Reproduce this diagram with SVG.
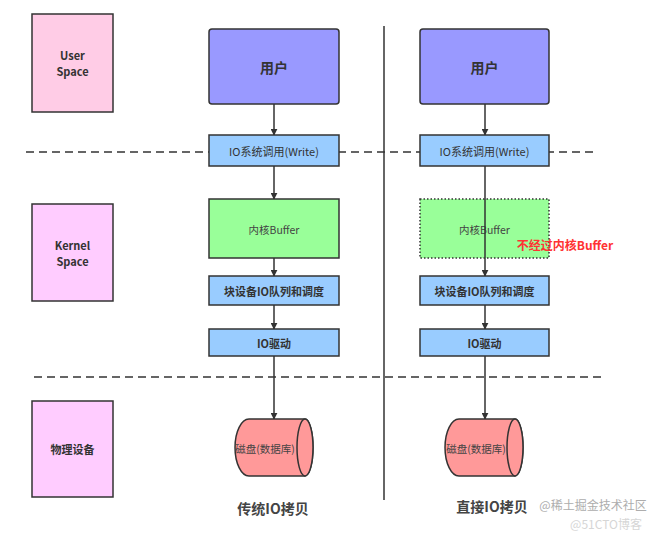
<svg xmlns="http://www.w3.org/2000/svg" width="669" height="533" viewBox="0 0 669 533">
<style>
text{font-family:"Noto Sans CJK SC","Noto Sans",sans-serif;text-anchor:middle;dominant-baseline:central}
.t{fill:#333}
.g{fill:#444}
.b{stroke:#333;stroke-width:1.5}
.lbl{font-size:11px;font-weight:bold;fill:#333}
.sm{font-size:11px;fill:#333}
.red{font-size:12px;font-weight:bold;fill:#ff3333}
.wm1{font-size:12px;fill:#999;opacity:0.8}
.wm2{font-size:12px;fill:#bbb;opacity:0.6}
.dash{stroke:#333;stroke-width:1.5;stroke-dasharray:8 5;fill:none}
.ar{stroke:#333;stroke-width:1.5;fill:none;marker-end:url(#ah)}
</style>
<defs>
<marker id="ah" viewBox="0 0 10 10" refX="9" refY="5" markerWidth="7" markerHeight="7" markerUnits="userSpaceOnUse" orient="auto"><path d="M0,0 L10,5 L0,10 z" fill="#333"/></marker>
</defs>
<rect width="669" height="533" fill="#fff"/>
<g id="dividers">
<line class="dash" x1="26" y1="152" x2="597" y2="152"/>
<line class="dash" x1="34" y1="377" x2="605" y2="377"/>
<line x1="384" y1="26" x2="384" y2="500" stroke="#333" stroke-width="1.5"/>
</g>
<g id="user-space"><rect class="b" x="32" y="14" width="81" height="98" fill="#ffcce6"/><text class="lbl" x="72.5" y="55">User</text><text class="lbl" x="72.5" y="71">Space</text></g>
<g id="kernel-space"><rect class="b" x="32" y="204" width="81" height="97" fill="#ffccff"/><text class="lbl" x="72.5" y="245">Kernel</text><text class="lbl" x="72.5" y="261">Space</text></g>
<g id="physical"><rect class="b" x="32" y="401" width="81" height="96" fill="#ffccff"/><text class="lbl" x="72.5" y="449">物理设备</text></g>

<g id="connectors">
<line class="ar" x1="274" y1="104" x2="274" y2="135"/>
<line class="ar" x1="274" y1="166" x2="274" y2="199"/>
<line class="ar" x1="274" y1="258" x2="274" y2="276"/>
<line class="ar" x1="274" y1="305" x2="274" y2="329"/>
<line class="ar" x1="274" y1="356" x2="274" y2="419"/>
<line class="ar" x1="485" y1="104" x2="485" y2="135"/>
<line class="ar" x1="485" y1="305" x2="485" y2="329"/>
<line class="ar" x1="485" y1="356" x2="485" y2="419"/>
</g>

<g id="l-user"><rect class="b" x="209" y="29" width="130" height="75" rx="3" fill="#9999ff"/><text class="t" x="274" y="67" font-size="14" font-weight="bold">用户</text></g>
<g id="l-syscall"><rect class="b" x="209" y="135" width="130" height="31" fill="#99ccff"/><text class="sm" x="274" y="151">IO系统调用(Write)</text></g>
<g id="l-buffer"><rect class="b" x="209" y="199" width="130" height="59" fill="#99ff99"/><text class="g" x="274" y="229" font-size="10.5">内核Buffer</text></g>
<g id="l-queue"><rect class="b" x="209" y="276" width="130" height="29" fill="#99ccff"/><text class="lbl" x="274" y="291">块设备IO队列和调度</text></g>
<g id="l-driver"><rect class="b" x="209" y="329" width="130" height="27" fill="#99ccff"/><text class="lbl" x="274" y="343">IO驱动</text></g>
<g id="l-disk"><path class="b" d="M249,419 H305 A8,28.5 0 0 1 305,476 H249 A14,28.5 0 0 1 249,419 Z" fill="#ff9999"/><ellipse class="b" cx="305" cy="447.5" rx="8" ry="28.5" fill="#ff9999"/><text class="g" x="265" y="448" font-size="10.5">磁盘(数据库)</text></g>
<text class="g" x="273" y="508" font-size="14" font-weight="bold">传统IO拷贝</text>

<g id="r-user"><rect class="b" x="420" y="29" width="129" height="75" rx="3" fill="#9999ff"/><text class="t" x="484.5" y="67" font-size="14" font-weight="bold">用户</text></g>
<g id="r-syscall"><rect class="b" x="420" y="135" width="129" height="31" fill="#99ccff"/><text class="sm" x="484.5" y="151">IO系统调用(Write)</text></g>
<g id="r-buffer"><rect x="420" y="199" width="129" height="59" fill="#99ff99" stroke="#333" stroke-width="1.5" stroke-dasharray="1.5 2"/><text class="g" x="484.5" y="229" font-size="10.5">内核Buffer</text></g>
<g id="bypass-connector"><line class="ar" x1="485" y1="166" x2="485" y2="276"/></g>
<text class="red" x="565" y="244">不经过内核Buffer</text>
<g id="r-queue"><rect class="b" x="420" y="276" width="129" height="29" fill="#99ccff"/><text class="lbl" x="484.5" y="291">块设备IO队列和调度</text></g>
<g id="r-driver"><rect class="b" x="420" y="329" width="129" height="27" fill="#99ccff"/><text class="lbl" x="484.5" y="343">IO驱动</text></g>
<g id="r-disk"><path class="b" d="M459,419 H515 A8,28.5 0 0 1 515,476 H459 A14,28.5 0 0 1 459,419 Z" fill="#ff9999"/><ellipse class="b" cx="515" cy="447.5" rx="8" ry="28.5" fill="#ff9999"/><text class="g" x="476" y="448" font-size="10.5">磁盘(数据库)</text></g>
<text class="g" x="492" y="506" font-size="14" font-weight="bold">直接IO拷贝</text>
<text class="wm1" x="593" y="504">@稀土掘金技术社区</text>
<text class="wm2" x="606" y="523">@51CTO博客</text>
</svg>
